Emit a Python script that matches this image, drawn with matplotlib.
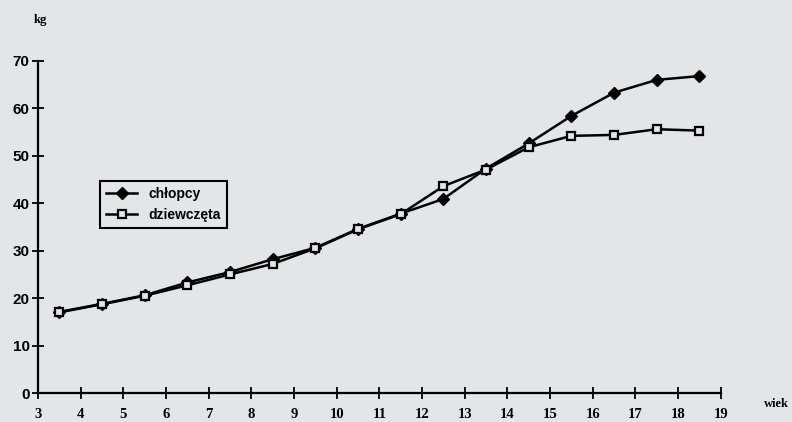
import matplotlib
matplotlib.use("Agg")
import matplotlib.pyplot as plt

# wiek (age) at mid-year points and mean body mass, kg
wiek = [3.5, 4.5, 5.5, 6.5, 7.5, 8.5, 9.5, 10.5, 11.5, 12.5, 13.5, 14.5, 15.5, 16.5, 17.5, 18.5]
chlopcy = [17.1, 18.8, 20.6, 23.3, 25.5, 28.2, 30.6, 34.6, 37.8, 40.9, 47.3, 52.6, 58.4, 63.3, 66.0, 66.8]
dziewczeta = [17.0, 18.7, 20.5, 22.7, 25.0, 27.2, 30.5, 34.5, 37.7, 43.6, 47.1, 51.8, 54.2, 54.4, 55.6, 55.3]

x_ticks = list(range(3, 20))
y_ticks = [0, 10, 20, 30, 40, 50, 60, 70]

bg = "#e4e5e7"

fig = plt.figure(figsize=(7.92, 4.22), dpi=100)
fig.patch.set_facecolor(bg)
ax = fig.add_axes([0.048, 0.0687, 0.862, 0.787])
ax.set_facecolor(bg)

ax.plot(wiek, chlopcy, color="black", lw=1.8, marker="D", ms=6,
        mfc="black", mec="black", label="chłopcy", zorder=3)
ax.plot(wiek, dziewczeta, color="black", lw=1.8, marker="s", ms=6.3,
        mfc=bg, mec="black", mew=1.6, label="dziewczęta", zorder=3)

ax.set_xlim(3, 19)
ax.set_ylim(0, 70)
ax.spines["top"].set_visible(False)
ax.spines["right"].set_visible(False)
ax.spines["left"].set_linewidth(1.6)
ax.spines["bottom"].set_linewidth(1.6)

ax.set_xticks(x_ticks)
ax.set_yticks(y_ticks)
ax.tick_params(axis="both", direction="inout", length=8, width=1.3, colors="black")
ax.tick_params(axis="x", pad=7)
ax.tick_params(axis="y", pad=2)
for lab in ax.get_xticklabels():
    lab.set_fontfamily("Liberation Serif")
    lab.set_fontweight("bold")
    lab.set_fontsize(10.5)
for lab in ax.get_yticklabels():
    lab.set_fontfamily("Liberation Sans")
    lab.set_fontweight("bold")
    lab.set_fontsize(11)

fig.text(0.043, 0.945, "kg", fontfamily="Liberation Serif", fontweight="bold", fontsize=9)
fig.text(0.965, 0.035, "wiek", fontfamily="Liberation Serif", fontweight="bold", fontsize=9)

leg = ax.legend(loc="upper left", bbox_to_anchor=(0.091, 0.639), borderaxespad=0,
                frameon=True, fancybox=False, edgecolor="black", facecolor=bg,
                handlelength=2.2, prop={"family": "Liberation Sans", "weight": "bold", "size": 10},
                labelspacing=0.5, borderpad=0.45)
leg.get_frame().set_linewidth(1.5)
leg.get_frame().set_alpha(1)

fig.savefig("out.png", dpi=100, facecolor=bg)
